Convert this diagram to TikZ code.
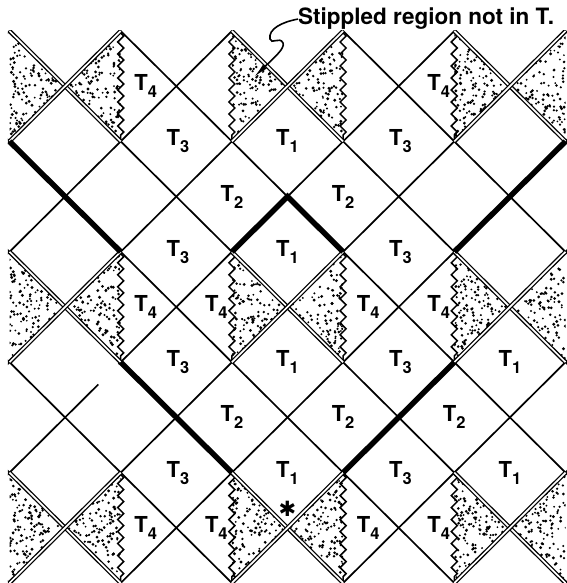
\documentclass[tikz,border=0pt]{standalone}
\usepackage{fontspec}
\setmainfont{TeX Gyre Heros}
\newfontfamily\symfont{DejaVu Sans}
\usetikzlibrary{decorations.pathmorphing,arrows.meta}
\newcommand\tlbl[1]{T\raisebox{-7pt}{\fontsize{16.5}{16.5}\selectfont #1}}
\begin{document}
\begin{tikzpicture}[x=1pt,y=-1pt,
  thinl/.style={line width=1.7pt,line cap=round},
  dbl/.style={draw=black,line width=1.3pt,double=white,double distance=1.7pt},
  wave/.style={line width=1.5pt,decorate,decoration={zigzag,segment length=12pt,amplitude=3pt,pre length=2pt,post length=2pt}},
  heavy/.style={line width=5.5pt},
  lab/.style={font=\fontsize{22}{25}\selectfont\bfseries,inner sep=0pt},
  leader/.style={line width=1.6pt,-{Latex[length=15pt,width=5.5pt]}}]
\useasboundingbox (0,0) rectangle (566,583);
\pgfmathsetseed{12345}
\begin{scope}[shift={(9.5pt,-31pt)},x=55.6pt,y=-55.2pt]
 \begin{scope}
  \clip (-0.03,0) rectangle (10.03,10);
  % stippled bow-ties
  \foreach \c/\r in {1/1,5/1,9/1,1/5,5/5,9/5,1/9,5/9,9/9}{
   \begin{scope}
    \clip (\c-1,\r-1) -- (\c,\r) -- (\c-1,\r+1) -- cycle
          (\c+1,\r-1) -- (\c,\r) -- (\c+1,\r+1) -- cycle;
    \foreach \k in {1,...,420}{
     \fill ({\c-1+2*rnd},{\r-1+2*rnd}) circle ({0.95pt+0.7pt*rnd});
    }
   \end{scope}
  }
  % lattice
  \foreach \k in {-10,-8,...,10}{\draw[thinl] (\k,0) -- (\k+10,10);}
  \foreach \k in {0,2,...,20}{\draw[thinl] (\k,0) -- (\k-10,10);}
  % small break in a line
  \draw[white,line width=3.5pt] (1.6,6.4) -- (1.96,6.04);
  % zigzag boundaries
  \foreach \i/\r in {2/1,4/1,6/1,8/1,2/5,4/5,6/5,8/5,2/9,4/9,6/9,8/9}{
   \draw[wave] (\i,\r-1) -- (\i,\r+1);
  }
  % double lines
  \foreach \c/\r in {1/1,5/1,9/1,1/5,5/5,9/5,1/9,5/9,9/9}{
   \draw[dbl] (\c-1,\r-1) -- (\c+1,\r+1);
   \draw[dbl] (\c+1,\r-1) -- (\c-1,\r+1);
  }
  % heavy lines
  \draw[heavy] (0,2) -- (2,4);
  \draw[heavy] (2,6) -- (4,8);
  \draw[heavy] (4,4) -- (5,3) -- (6,4);
  \draw[heavy] (10,2) -- (8,4);
  \draw[heavy] (8,6) -- (6,8);
 \end{scope}
 % labels
 \foreach \i/\j in {3/2,7/2,3/4,7/4,3/6,7/6,3/8,7/8}{
  \node[lab] (tc-\i-\j) at (\i+0.03,\j) {\tlbl{3}};
 }
 \foreach \i/\j in {5/2,5/4,5/6,9/6,5/8,9/8}{
  \node[lab] (ta-\i-\j) at (\i,\j) {\tlbl{1}};
 }
 \foreach \i/\j in {4/3,6/3,4/7,6/7,8/7}{
  \node[lab] (tb-\i-\j) at (\i,\j) {\tlbl{2}};
 }
 \foreach \i/\j in {2/1,2/5,6/5,2/9,6/9}{
  \node[lab] (tr-\i-\j) at (\i+0.45,\j) {\tlbl{4}};
 }
 \foreach \i/\j in {8/1,4/5,8/5,4/9,8/9}{
  \node[lab] (tl-\i-\j) at (\i-0.28,\j) {\tlbl{4}};
 }
 \coordinate (astpos) at (5,8.66);
\end{scope}
\node[inner sep=0pt,font=\symfont\bfseries\fontsize{21}{21}\selectfont] (asterisk) at (astpos) {✱};
\node[font=\fontsize{22.5}{27}\selectfont\bfseries,anchor=base west,inner sep=0pt] (note) at (298,25) {Stippled region not in T.};
\coordinate (tip) at (254,77);
\draw[leader] (note.west) .. controls (282,22) and (268,29) .. (270,39)
  .. controls (271,45) and (280,36) .. (283,43)
  .. controls (285,48) and (276,56) .. (tip);
\end{tikzpicture}
\end{document}
